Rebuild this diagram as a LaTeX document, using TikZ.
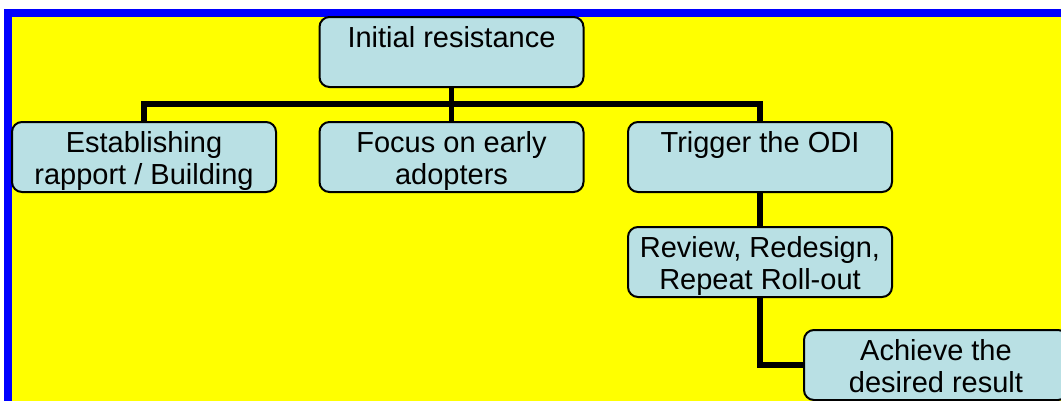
\documentclass[tikz,border=0pt]{standalone}
\usepackage{fontspec}
\setmainfont{Liberation Sans}
\definecolor{boxfill}{RGB}{185,224,228}
\definecolor{framebl}{RGB}{0,0,255}
\definecolor{bgyel}{RGB}{255,255,0}
\tikzset{
  stagebox/.style={draw=black, line width=2pt, fill=boxfill, rounded corners=10pt,
    minimum width=262pt, minimum height=68pt, inner sep=0pt},
  stagetxt/.style={anchor=north, inner sep=0pt, align=center,
    font=\fontsize{29}{32}\selectfont},
  conn/.style={draw=black, line width=5.5pt}
}
\begin{document}
\begin{tikzpicture}[x=1pt,y=-1pt]
\useasboundingbox (0,0) rectangle (1061,400);
\clip (0,0) rectangle (1061,400);
% frame and background
\fill[framebl] (4,9) rectangle (1080,420);
\fill[bgyel] (12,17) rectangle (1080,420);
% box shapes (empty, texts added below)
\path (451.5,52) node[stagebox] (ir) {};
\path (144,157) node[stagebox] (es) {};
\path (451.5,157) node[stagebox] (fo) {};
\path (760,157) node[stagebox] (tr) {};
\path (760,262) node[stagebox] (rv) {};
\path (936,365) node[stagebox] (ac) {};
% connectors
\draw[conn] (ir.south) -- ++(0,17) coordinate (j);
\draw[conn] (j) -- (fo.north);
\draw[conn] (es.north) |- (j) -| (tr.north);
\draw[conn] (tr.south) -- (rv.north);
\draw[conn] (rv.south) |- (ac.west);
% boxes redrawn on top of connectors
\foreach \n in {ir,es,fo,tr,rv,ac}{
  \path[draw=black, line width=2pt, fill=boxfill, rounded corners=10pt]
    (\n.south west) rectangle (\n.north east);
}
% texts clipped to the boxes
\begin{scope}
\clip ([yshift=2pt]ir.south west) rectangle (ir.north east);
\node[stagetxt] (irt) at ([yshift=-9.5pt]ir.north) {Initial resistance};
\end{scope}
\begin{scope}
\clip ([yshift=3pt]es.south west) rectangle (es.north east);
\node[stagetxt] (est) at ([yshift=-9.5pt]es.north) {Establishing\\rapport / Building};
\end{scope}
\begin{scope}
\clip ([yshift=3pt]fo.south west) rectangle (fo.north east);
\node[stagetxt] (fot) at ([yshift=-9.5pt]fo.north) {Focus on early\\adopters};
\end{scope}
\begin{scope}
\clip ([yshift=3pt]tr.south west) rectangle (tr.north east);
\node[stagetxt] (trt) at ([yshift=-9.5pt]tr.north) {Trigger the ODI};
\end{scope}
\begin{scope}
\clip ([yshift=3pt]rv.south west) rectangle (rv.north east);
\node[stagetxt] (rvt) at ([yshift=-9.5pt]rv.north) {Review, Redesign,\\Repeat Roll-out};
\end{scope}
\begin{scope}
\clip ([yshift=3pt]ac.south west) rectangle (ac.north east);
\node[stagetxt] (act) at ([yshift=-9pt]ac.north) {Achieve the\\desired result};
\end{scope}
\end{tikzpicture}
\end{document}
